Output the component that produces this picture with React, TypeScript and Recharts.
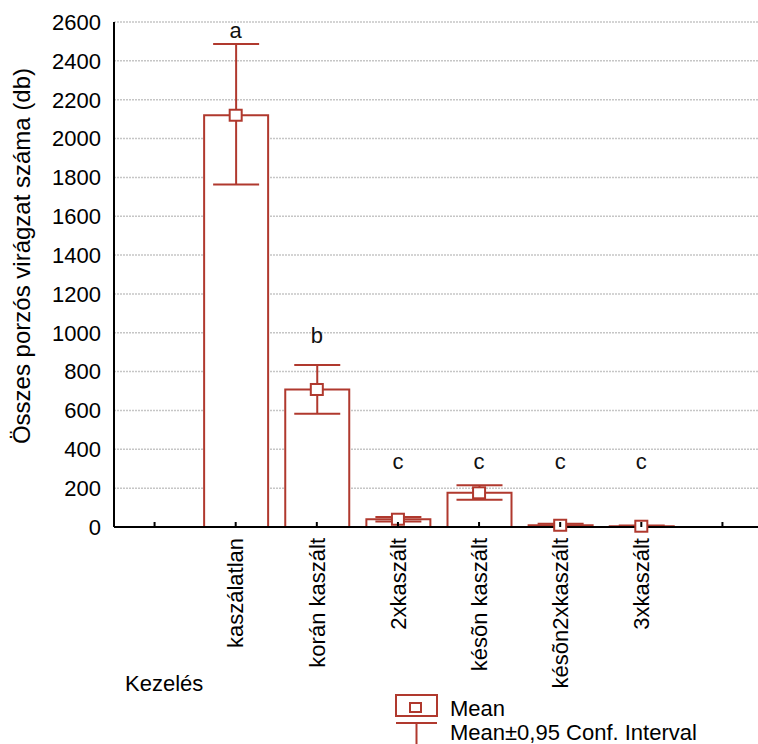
import { ComposedChart, Bar, ErrorBar, Scatter, XAxis, YAxis, CartesianGrid } from "recharts";

const categories = ["", "kaszálatlan", "korán kaszált", "2xkaszált", "késõn kaszált", "késõn2xkaszált", "3xkaszált", " "];
const means = [null, 2120, 708, 40, 176, 9, 4];
const ciLow = [null, 1763, 583, 28, 140, 2, 0];
const ciHigh = [null, 2487, 834, 52, 215, 17, 8];
const letters = ["", "a", "b", "c", "c", "c", "c", ""];
const letterLevels = [null, 2558, 988, 336, 336, 336, 336, null];
const yTicks = [0, 200, 400, 600, 800, 1000, 1200, 1400, 1600, 1800, 2000, 2200, 2400, 2600];

const RED = "#b0392e";
const FONT = "Arial, 'Liberation Sans', sans-serif";

const data = categories.map((name, i) => {
  const m = means[i] ?? null;
  return {
    name,
    mean: m,
    err: m == null ? null : [m - (ciLow[i] as number), (ciHigh[i] as number) - m],
    letter: letters[i],
    letterY: letterLevels[i],
  };
});

const BottomTick = ({ x, y, payload }: any) => (
  <g>
    <line x1={x} y1={y} x2={x} y2={y - 5} stroke="#000" strokeWidth={2} />
    <text
      x={x}
      y={y + 11}
      transform={`rotate(-90, ${x}, ${y + 11})`}
      textAnchor="end"
      dy="0.35em"
      fontSize={22}
      fontFamily={FONT}
      fill="#000"
    >
      {payload.value.trim()}
    </text>
  </g>
);

const TopTick = ({ x, y }: any) => (
  <line x1={x} y1={y} x2={x} y2={y + 5} stroke="#000" strokeWidth={2} />
);

const MeanMarker = ({ cx, cy }: any) => {
  if (cx == null || cy == null || isNaN(cy)) return null;
  return <rect x={cx - 6} y={cy - 5.5} width={12} height={11} fill="#fff" stroke={RED} strokeWidth={2} />;
};

const LetterMark = ({ cx, cy, payload }: any) => {
  if (cx == null || cy == null || isNaN(cy) || !payload.letter) return null;
  return (
    <text x={cx} y={cy} dy="0.35em" textAnchor="middle" fontSize={22} fontFamily={FONT} fill="#111">
      {payload.letter}
    </text>
  );
};

export default function App() {
  return (
    <div style={{ position: "absolute", left: 0, top: 0, width: 758, height: 744, overflow: "hidden", background: "#fff" }}>
      <ComposedChart width={780} height={744} data={data} margin={{ top: 22, right: 17, left: 0, bottom: 0 }}>
        <CartesianGrid horizontal={true} vertical={false} stroke="#c6c6c6" strokeWidth={1.5} strokeDasharray="2 1" />
        <XAxis
          dataKey="name"
          xAxisId={0}
          height={217}
          interval={0}
          tickSize={0}
          tickMargin={0}
          tickLine={false}
          axisLine={{ stroke: "#000", strokeWidth: 2 }}
          tick={<BottomTick />}
        />
        <XAxis
          dataKey="name"
          xAxisId="top"
          orientation="top"
          height={0}
          interval={0}
          tickSize={0}
          tickMargin={0}
          tickLine={false}
          axisLine={{ stroke: "#333", strokeWidth: 2 }}
          tick={<TopTick />}
        />
        <YAxis
          width={114}
          domain={[0, 2600]}
          ticks={yTicks}
          interval={0}
          tickLine={false}
          tickSize={0}
          tickMargin={13}
          axisLine={{ stroke: "#000", strokeWidth: 2 }}
          tick={{ fontSize: 22, fontFamily: FONT, fill: "#000" }}
        />
        <Bar dataKey="mean" barSize={64} fill="#fff" stroke={RED} strokeWidth={2} isAnimationActive={false}>
          <ErrorBar dataKey="err" direction="y" width={23} stroke={RED} strokeWidth={2} />
        </Bar>
        <Scatter dataKey="mean" shape={<MeanMarker />} isAnimationActive={false} />
        <Scatter dataKey="letterY" shape={<LetterMark />} isAnimationActive={false} />
      </ComposedChart>
      <svg width={758} height={744} style={{ position: "absolute", left: 0, top: 0, pointerEvents: "none" }}>
        <text
          x={22}
          y={256}
          transform="rotate(-90, 22, 256)"
          textAnchor="middle"
          dy="0.35em"
          fontSize={24}
          fontFamily={FONT}
          fill="#000"
        >
          Összes porzós virágzat száma (db)
        </text>
        <text x={125} y={683} dy="0.35em" fontSize={22} fontFamily={FONT} fill="#000">
          Kezelés
        </text>
        <rect x={396} y={695} width={41} height={21} fill="#fff" stroke={RED} strokeWidth={2} />
        <rect x={410} y={703} width={11} height={9} fill="#fff" stroke={RED} strokeWidth={2} />
        <text x={450} y={708} dy="0.35em" fontSize={22} fontFamily={FONT} fill="#000">
          Mean
        </text>
        <line x1={396} y1={723} x2={437} y2={723} stroke={RED} strokeWidth={2} />
        <line x1={416.5} y1={723} x2={416.5} y2={744} stroke={RED} strokeWidth={2} />
        <text x={450} y={732} dy="0.35em" fontSize={22} fontFamily={FONT} fill="#000">
          Mean±0,95 Conf. Interval
        </text>
      </svg>
    </div>
  );
}
